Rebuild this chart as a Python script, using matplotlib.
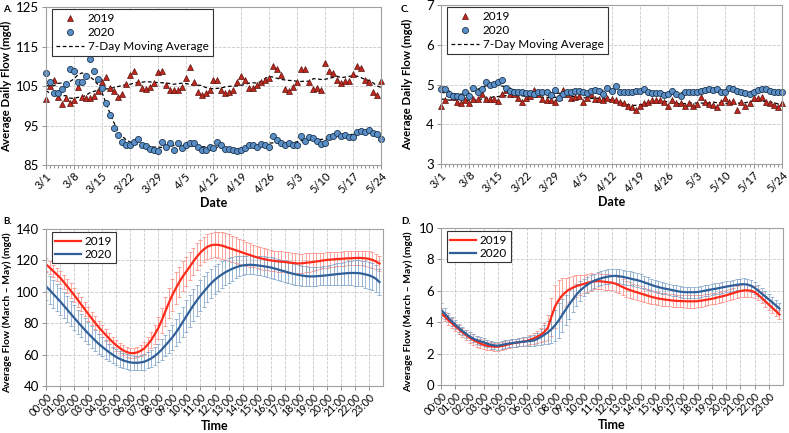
import matplotlib
matplotlib.use("Agg")
import matplotlib.pyplot as plt
from matplotlib.lines import Line2D
import numpy as np
import pandas as pd

plt.rcParams['font.family'] = ['Lato', 'DejaVu Sans']

# ---- daily flows, 3/1 - 5/24 ----
dates = pd.date_range('2020-03-01', '2020-05-24', freq='D')

# A. large plant (mgd)
a_2019 = [101.7, 105.0, 106.5, 102.2, 100.4, 101.9, 100.6, 101.4, 104.8, 102.2,
          102.0, 101.9, 102.4, 103.8, 105.9, 107.2, 104.5, 103.8, 102.2, 103.0,
          105.5, 107.8, 108.9, 106.0, 104.5, 104.2, 104.7, 105.7, 108.5, 108.7,
          105.2, 104.1, 104.0, 104.1, 104.8, 107.1, 109.8, 106.0, 103.6, 102.7,
          103.2, 104.1, 106.5, 106.4, 104.0, 103.2, 103.5, 104.0, 105.9, 107.5,
          106.6, 104.4, 104.4, 105.3, 106.0, 106.5, 107.0, 110.0, 109.4, 107.7,
          104.2, 103.7, 104.7, 105.9, 109.2, 109.3, 106.0, 104.2, 104.5, 104.0,
          110.7, 108.9, 108.2, 106.5, 105.7, 106.2, 106.2, 108.0, 110.0, 109.6,
          106.6, 105.9, 103.6, 102.8, 106.3]
a_2020 = [108.2, 106.0, 103.2, 103.2, 104.3, 105.5, 109.3, 108.8, 106.0, 105.9,
          107.6, 111.8, 108.8, 106.7, 104.5, 100.6, 97.7, 94.4, 92.5, 90.9,
          90.0, 90.0, 90.9, 91.6, 90.0, 89.8, 89.1, 88.8, 88.5, 90.8,
          89.6, 90.5, 88.8, 90.5, 89.4, 90.0, 90.6, 90.6, 89.5, 88.8,
          88.8, 89.5, 89.4, 90.8, 90.0, 89.0, 89.0, 88.8, 88.5, 88.8,
          89.4, 90.0, 90.0, 89.6, 90.4, 90.0, 89.6, 92.3, 91.4, 90.5,
          90.0, 90.6, 90.0, 90.0, 92.3, 91.2, 92.2, 91.8, 91.0, 90.4,
          90.5, 92.0, 92.3, 93.0, 92.3, 92.5, 92.0, 92.1, 93.4, 93.6,
          93.3, 93.8, 93.1, 92.8, 91.5]

# C. small plant (mgd)
c_2019 = [4.46, 4.61, 4.79, 4.69, 4.57, 4.53, 4.61, 4.53, 4.63, 4.63,
          4.75, 4.63, 4.63, 4.63, 4.59, 4.75, 4.87, 4.77, 4.76, 4.66,
          4.56, 4.65, 4.71, 4.87, 4.75, 4.63, 4.61, 4.61, 4.57, 4.69,
          4.87, 4.75, 4.65, 4.69, 4.71, 4.55, 4.66, 4.75, 4.64, 4.64,
          4.61, 4.67, 4.63, 4.61, 4.57, 4.53, 4.46, 4.43, 4.35, 4.46,
          4.53, 4.57, 4.62, 4.61, 4.62, 4.57, 4.46, 4.62, 4.53, 4.53,
          4.46, 4.53, 4.46, 4.51, 4.69, 4.57, 4.51, 4.48, 4.44, 4.57,
          4.65, 4.57, 4.58, 4.37, 4.57, 4.46, 4.53, 4.65, 4.65, 4.69,
          4.57, 4.53, 4.48, 4.44, 4.54]
c_2020 = [4.88, 4.88, 4.75, 4.72, 4.71, 4.69, 4.80, 4.71, 4.92, 4.82,
          4.88, 5.07, 4.98, 5.01, 5.06, 5.11, 4.92, 4.83, 4.82, 4.82,
          4.80, 4.78, 4.78, 4.76, 4.80, 4.80, 4.82, 4.73, 4.86, 4.66,
          4.77, 4.80, 4.82, 4.84, 4.84, 4.80, 4.78, 4.84, 4.86, 4.83,
          4.75, 4.91, 4.84, 4.97, 4.82, 4.82, 4.82, 4.82, 4.83, 4.84,
          4.88, 4.82, 4.78, 4.78, 4.78, 4.74, 4.75, 4.84, 4.76, 4.72,
          4.80, 4.82, 4.82, 4.82, 4.83, 4.86, 4.88, 4.86, 4.88, 4.82,
          4.80, 4.91, 4.88, 4.84, 4.82, 4.78, 4.77, 4.80, 4.86, 4.88,
          4.89, 4.83, 4.82, 4.82, 4.80]

# ---- diurnal flows, 15-min steps (March - May average) ----
hours = np.arange(96) * 0.25
time_labels = ['%02d:00' % h for h in range(24)]

b_2019 = [117.5, 115.5, 113.3, 111.2, 109.0, 106.4, 103.6, 100.8,
          98.0, 95.0, 92.0, 89.0, 86.0, 83.1, 80.2, 77.5,
          75.0, 72.6, 70.2, 68.0, 66.0, 64.2, 62.7, 61.6,
          61.0, 60.9, 61.4, 62.4, 64.0, 66.4, 69.4, 73.0,
          77.0, 82.0, 87.5, 93.0, 98.0, 102.3, 106.3, 109.9,
          113.0, 116.2, 119.4, 122.4, 125.0, 127.1, 128.7, 129.6,
          130.0, 129.9, 129.5, 128.8, 128.0, 127.3, 126.5, 125.8,
          125.0, 124.2, 123.5, 122.7, 122.0, 121.4, 120.9, 120.4,
          120.0, 119.7, 119.4, 119.2, 119.0, 118.7, 118.4, 118.2,
          118.0, 118.2, 118.5, 118.7, 119.0, 119.3, 119.6, 120.0,
          120.3, 120.5, 120.7, 120.9, 121.0, 121.2, 121.3, 121.4,
          121.5, 121.6, 121.5, 121.3, 121.0, 120.3, 119.3, 118.0]
b_2019_sd = [4.0, 4.0, 4.0, 4.2, 4.2, 4.3, 4.4, 4.5,
             4.5, 4.5, 4.5, 4.5, 4.4, 4.3, 4.2, 4.1,
             4.0, 3.8, 3.6, 3.5, 3.4, 3.2, 3.1, 3.0,
             3.0, 3.0, 3.2, 3.5, 4.0, 4.6, 5.3, 6.0,
             7.0, 8.0, 9.0, 9.6, 10.0, 10.0, 9.8, 9.5,
             9.2, 9.0, 8.8, 8.5, 8.2, 8.0, 8.0, 8.0,
             8.0, 8.2, 8.4, 8.5, 8.5, 8.4, 8.2, 8.0,
             7.8, 7.6, 7.4, 7.2, 7.0, 6.9, 6.8, 6.7,
             6.6, 6.6, 6.5, 6.5, 6.5, 6.5, 6.4, 6.3,
             6.2, 6.1, 6.0, 5.8, 5.6, 5.4, 5.2, 5.0,
             4.9, 4.8, 4.7, 4.6, 4.5, 4.5, 4.5, 4.5,
             4.5, 4.6, 4.7, 4.8, 5.0, 5.0, 5.0, 5.0]
b_2020 = [103.5, 101.2, 98.8, 96.4, 94.0, 91.4, 88.8, 86.1,
          83.5, 80.9, 78.4, 75.9, 73.5, 71.2, 69.0, 66.9,
          65.0, 63.2, 61.5, 59.9, 58.5, 57.3, 56.3, 55.6,
          55.0, 54.8, 54.8, 55.0, 55.5, 56.4, 57.6, 59.2,
          61.0, 63.3, 65.8, 68.4, 71.0, 74.0, 77.3, 80.9,
          84.5, 88.0, 91.4, 94.6, 97.5, 100.2, 102.9, 105.3,
          107.5, 109.3, 110.9, 112.3, 113.5, 114.6, 115.5, 116.3,
          116.8, 117.1, 117.2, 117.1, 116.9, 116.6, 116.3, 115.9,
          115.5, 114.9, 114.3, 113.6, 113.0, 112.3, 111.7, 111.2,
          110.7, 110.3, 110.0, 109.8, 109.8, 109.9, 110.1, 110.3,
          110.5, 110.8, 111.0, 111.3, 111.5, 111.7, 111.9, 112.0,
          112.0, 111.9, 111.6, 111.1, 110.5, 109.6, 108.3, 106.2]
b_2020_sd = [9.0, 9.0, 8.8, 8.7, 8.5, 8.4, 8.3, 8.1,
             8.0, 7.8, 7.5, 7.2, 7.0, 6.7, 6.5, 6.2,
             6.0, 5.8, 5.5, 5.2, 5.0, 4.9, 4.8, 4.6,
             4.5, 4.5, 4.6, 4.8, 5.0, 5.2, 5.5, 5.8,
             6.0, 6.5, 7.0, 7.5, 8.0, 8.6, 9.2, 9.7,
             10.0, 10.2, 10.2, 10.0, 10.0, 9.8, 9.5, 9.2,
             9.0, 8.7, 8.4, 8.2, 8.0, 7.5, 7.0, 6.5,
             6.0, 6.0, 6.0, 6.0, 6.0, 6.1, 6.2, 6.4,
             6.5, 6.6, 6.8, 6.9, 7.0, 7.0, 6.8, 6.6,
             6.5, 6.4, 6.2, 6.1, 6.0, 6.0, 6.0, 6.0,
             6.0, 6.2, 6.5, 6.8, 7.0, 7.2, 7.5, 7.8,
             8.0, 8.1, 8.2, 8.4, 8.5, 8.5, 8.5, 8.5]

d_2019 = [4.59, 4.37, 4.15, 3.94, 3.74, 3.55, 3.36, 3.18,
          3.02, 2.88, 2.76, 2.65, 2.56, 2.50, 2.46, 2.44,
          2.44, 2.48, 2.53, 2.59, 2.65, 2.69, 2.72, 2.76,
          2.80, 2.88, 2.97, 3.07, 3.20, 3.38, 3.65, 4.35,
          5.00, 5.40, 5.70, 5.92, 6.08, 6.20, 6.30, 6.37,
          6.43, 6.50, 6.56, 6.60, 6.62, 6.60, 6.57, 6.54,
          6.52, 6.45, 6.35, 6.24, 6.13, 6.05, 5.97, 5.90,
          5.83, 5.76, 5.69, 5.62, 5.56, 5.51, 5.47, 5.44,
          5.41, 5.38, 5.36, 5.35, 5.34, 5.33, 5.33, 5.33,
          5.34, 5.37, 5.41, 5.45, 5.49, 5.54, 5.60, 5.65,
          5.71, 5.78, 5.85, 5.92, 5.98, 6.02, 6.03, 6.00,
          5.92, 5.75, 5.55, 5.34, 5.13, 4.92, 4.71, 4.49]
d_2019_sd = [0.30, 0.30, 0.30, 0.30, 0.30, 0.30, 0.30, 0.32,
             0.35, 0.35, 0.33, 0.30, 0.28, 0.25, 0.25, 0.25,
             0.25, 0.25, 0.25, 0.25, 0.25, 0.25, 0.25, 0.25,
             0.27, 0.30, 0.35, 0.40, 0.45, 0.55, 0.80, 1.20,
             1.40, 1.30, 1.10, 0.90, 0.80, 0.75, 0.70, 0.65,
             0.60, 0.55, 0.55, 0.50, 0.50, 0.50, 0.50, 0.50,
             0.50, 0.50, 0.50, 0.50, 0.50, 0.50, 0.48, 0.46,
             0.45, 0.45, 0.44, 0.43, 0.42, 0.42, 0.41, 0.40,
             0.40, 0.40, 0.40, 0.40, 0.40, 0.40, 0.40, 0.40,
             0.38, 0.37, 0.36, 0.35, 0.35, 0.35, 0.35, 0.35,
             0.35, 0.35, 0.35, 0.36, 0.38, 0.40, 0.40, 0.40,
             0.38, 0.36, 0.35, 0.35, 0.33, 0.32, 0.30, 0.30]
d_2020 = [4.81, 4.55, 4.30, 4.06, 3.85, 3.64, 3.45, 3.27,
          3.10, 2.97, 2.86, 2.78, 2.72, 2.63, 2.56, 2.52,
          2.50, 2.55, 2.60, 2.64, 2.67, 2.70, 2.73, 2.76,
          2.78, 2.80, 2.84, 2.93, 3.05, 3.20, 3.35, 3.55,
          3.80, 4.10, 4.45, 4.80, 5.13, 5.45, 5.75, 6.00,
          6.20, 6.38, 6.52, 6.64, 6.73, 6.80, 6.86, 6.91,
          6.94, 6.95, 6.93, 6.89, 6.84, 6.79, 6.73, 6.68,
          6.62, 6.54, 6.46, 6.38, 6.30, 6.24, 6.18, 6.13,
          6.09, 6.04, 5.99, 5.95, 5.92, 5.91, 5.91, 5.91,
          5.92, 5.96, 6.00, 6.05, 6.09, 6.13, 6.17, 6.22,
          6.26, 6.30, 6.34, 6.38, 6.41, 6.42, 6.40, 6.32,
          6.20, 6.02, 5.83, 5.64, 5.45, 5.27, 5.07, 4.87]
d_2020_sd = [0.40, 0.35, 0.30, 0.28, 0.27, 0.27, 0.26, 0.26,
             0.26, 0.25, 0.25, 0.25, 0.25, 0.24, 0.24, 0.24,
             0.24, 0.24, 0.25, 0.25, 0.25, 0.25, 0.26, 0.27,
             0.28, 0.30, 0.35, 0.40, 0.50, 0.60, 0.75, 0.90,
             1.00, 1.10, 1.05, 0.95, 0.90, 0.80, 0.70, 0.62,
             0.55, 0.50, 0.48, 0.46, 0.45, 0.45, 0.45, 0.45,
             0.45, 0.45, 0.45, 0.45, 0.45, 0.45, 0.44, 0.43,
             0.42, 0.41, 0.40, 0.40, 0.38, 0.37, 0.36, 0.35,
             0.35, 0.35, 0.35, 0.35, 0.35, 0.35, 0.35, 0.35,
             0.35, 0.35, 0.35, 0.35, 0.35, 0.35, 0.35, 0.35,
             0.35, 0.35, 0.35, 0.36, 0.37, 0.38, 0.38, 0.38,
             0.38, 0.38, 0.37, 0.36, 0.36, 0.35, 0.35, 0.35]

RED_MK = '#c0281e'
BLUE_MK = '#5b8fc7'
RED_LN = '#ff2a1a'
BLUE_LN = '#2f5f98'
GRID = '#c8c8c8'
SPINE = '#a0a0a0'
W, H = 789.0, 433.0


def style_axes(ax):
    for s in ax.spines.values():
        s.set_color(SPINE)
        s.set_linewidth(0.8)
    ax.grid(True, color=GRID, linestyle='--', linewidth=0.6)
    ax.set_axisbelow(True)
    ax.tick_params(axis='both', colors='#808080', labelcolor='black', length=3, width=0.6)
    ax.tick_params(axis='y', labelsize=9.5, pad=2)
    ax.tick_params(axis='x', pad=1)


def daily_panel(ax, v19, v20, ylim, yticks, ylab_x):
    x = np.arange(len(dates))
    ma19 = pd.Series(v19).rolling(7, center=True, min_periods=1).mean()
    ma20 = pd.Series(v20).rolling(7, center=True, min_periods=1).mean()
    ax.plot(x, ma19, color='black', linestyle='--', linewidth=0.9, dashes=(3, 2))
    ax.plot(x, ma20, color='black', linestyle='--', linewidth=0.9, dashes=(3, 2))
    ax.plot(x, v19, linestyle='none', marker='^', ms=4.2, color=RED_MK,
            mec='#5a1410', mew=0.5, clip_on=False)
    ax.plot(x, v20, linestyle='none', marker='o', ms=4.4, color=BLUE_MK,
            mec='#1c3550', mew=0.6, clip_on=False)
    ax.set_xlim(0, len(dates) - 1)
    ax.set_ylim(*ylim)
    ax.set_yticks(yticks)
    ax.set_xticks(x[::7])
    ax.set_xticklabels(['%d/%d' % (d.month, d.day) for d in dates[::7]],
                       rotation=45, ha='right', rotation_mode='anchor', fontsize=8)
    ax.set_xticks(x, minor=True)
    style_axes(ax)
    ax.tick_params(axis='x', which='minor', length=2, colors='#808080')
    ax.set_xlabel('Date', fontweight='bold', fontsize=9)
    ax.xaxis.set_label_coords(0.5, -0.20)
    ax.set_ylabel('Average Daily Flow (mgd)', fontweight='bold', fontsize=8.3)
    ax.yaxis.set_label_coords(ylab_x, 0.5)
    handles = [Line2D([], [], linestyle='none', marker='^', ms=4.2, color=RED_MK, mec='#5a1410', mew=0.5),
               Line2D([], [], linestyle='none', marker='o', ms=4.4, color=BLUE_MK, mec='#1c3550', mew=0.6),
               Line2D([], [], color='black', linestyle='--', linewidth=0.9, dashes=(3, 2))]
    leg = ax.legend(handles, ['2019', '2020', '7-Day Moving Average'], loc='upper left',
                    bbox_to_anchor=(0.012, 1.0), fontsize=8.5, fancybox=False, framealpha=1,
                    edgecolor='#333333', borderaxespad=0.15, handlelength=2.4,
                    labelspacing=0.25, borderpad=0.35, handletextpad=0.3)
    leg.get_frame().set_linewidth(0.8)


def diurnal_panel(ax, v19, s19, v20, s20, ylim, yticks, ylab_x):
    ax.errorbar(hours, v19, yerr=s19, fmt='none', ecolor='#ff8a80', elinewidth=0.6,
                capsize=1.6, capthick=0.6, alpha=0.9)
    ax.errorbar(hours, v20, yerr=s20, fmt='none', ecolor='#7fa3c9', elinewidth=0.6,
                capsize=1.6, capthick=0.6, alpha=0.9)
    ax.plot(hours, v19, color=RED_LN, linewidth=1.6, label='2019')
    ax.plot(hours, v20, color=BLUE_LN, linewidth=1.6, label='2020')
    ax.set_xlim(0, 24)
    ax.set_ylim(*ylim)
    ax.set_yticks(yticks)
    ax.set_xticks(np.arange(24))
    ax.set_xticklabels(time_labels, rotation=45, ha='right', rotation_mode='anchor', fontsize=7.6)
    style_axes(ax)
    ax.set_xlabel('Time', fontweight='bold', fontsize=9)
    ax.xaxis.set_label_coords(0.5, -0.215)
    ax.set_ylabel('Average Flow (March \u2013 May) (mgd)', fontweight='bold', fontsize=7.4)
    ax.yaxis.set_label_coords(ylab_x, 0.47)
    leg = ax.legend(loc='upper left', bbox_to_anchor=(0.012, 0.99), fontsize=8.5, fancybox=False,
                    framealpha=1, edgecolor='#333333', borderaxespad=0.15, handlelength=2.2,
                    labelspacing=0.15, borderpad=0.3, handletextpad=0.3)
    leg.get_frame().set_linewidth(0.8)


fig = plt.figure(figsize=(7.89, 4.33), dpi=100)
axA = fig.add_axes([46 / W, 1 - 165 / H, 335 / W, 158 / H])
axC = fig.add_axes([441 / W, 1 - 164 / H, 341 / W, 159 / H])
axB = fig.add_axes([46 / W, 1 - 386 / H, 337 / W, 157 / H])
axD = fig.add_axes([441 / W, 1 - 385 / H, 342 / W, 157 / H])

daily_panel(axA, a_2019, a_2020, (85, 125), [85, 95, 105, 115, 125], -0.10)
daily_panel(axC, c_2019, c_2020, (3, 7), [3, 4, 5, 6, 7], -0.083)
diurnal_panel(axB, b_2019, b_2019_sd, b_2020, b_2020_sd, (40, 140), np.arange(40, 141, 20), -0.10)
diurnal_panel(axD, d_2019, d_2019_sd, d_2020, d_2020_sd, (0, 10), np.arange(0, 11, 2), -0.083)

for lab, (px, py) in {'A.': (3, 12), 'C.': (401, 12), 'B.': (3, 224), 'D.': (401, 224)}.items():
    fig.text(px / W, 1 - py / H, lab, fontsize=7, fontweight='bold')

fig.savefig('out.png', dpi=100)
